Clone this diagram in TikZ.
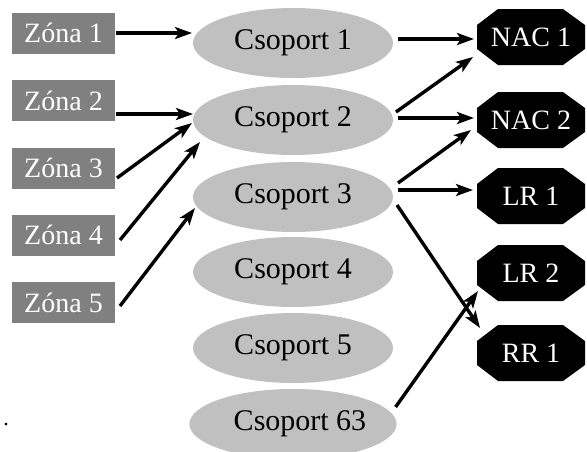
\documentclass[tikz,border=0pt]{standalone}
\usepackage{fontspec}
\setmainfont{Liberation Serif}
\usetikzlibrary{shapes.geometric,arrows.meta,calc,backgrounds}
\definecolor{zonegray}{RGB}{128,128,128}
\definecolor{grpgray}{RGB}{192,192,192}
\begin{document}
\begin{tikzpicture}[x=1pt,y=-1pt,
  zonebox/.style={rectangle,fill=zonegray,text=white,minimum width=103pt,minimum height=41pt,inner sep=0pt,outer sep=0pt,font=\fontsize{28}{30}\selectfont},
  grpbox/.style={ellipse,fill=grpgray,text=black,minimum width=200pt,minimum height=70pt,inner sep=0pt,outer sep=0pt,font=\fontsize{30}{32}\selectfont},
  outbox/.style={rectangle,text=white,minimum width=108pt,minimum height=56pt,inner sep=0pt,outer sep=0pt,font=\fontsize{28}{30}\selectfont},
  octfill/.style={fill=black},
  conn/.style={line width=3.4pt,-{Stealth[length=17pt,width=12pt,inset=4pt]}}]
\useasboundingbox (0,0) rectangle (587,451);
% zones
\node[zonebox] (z1) at (63.5,33) {Zóna 1};
\node[zonebox] (z2) at (63.5,100.5) {Zóna 2};
\node[zonebox] (z3) at (63.5,168) {Zóna 3};
\node[zonebox] (z4) at (63.5,235) {Zóna 4};
\node[zonebox] (z5) at (63.5,302.5) {Zóna 5};
% groups
\node[grpbox] (c1) at (293,43) {Csoport 1};
\node[grpbox] (c2) at (293,120) {Csoport 2};
\node[grpbox] (c3) at (293,197) {Csoport 3};
\node[grpbox] (c4) at (293,272) {Csoport 4};
\node[grpbox] (c5) at (293,348) {Csoport 5};
\node[grpbox] (c6) at (293,424) {\hspace*{14pt}Csoport 63};
% outputs
\node[outbox] (n1) at (531,37) {NAC 1};
\node[outbox] (n2) at (531,120) {NAC 2};
\node[outbox] (l1) at (531,196) {LR 1};
\node[outbox] (l2) at (531,273) {LR 2};
\node[outbox] (r1) at (531,353) {RR 1};
\begin{scope}[on background layer]
\foreach \n in {n1,n2,l1,l2,r1}{
  \fill[octfill] ($(\n.center)+(-33,-28)$) -- ($(\n.center)+(32,-28)$) -- ($(\n.center)+(54,-12)$) -- ($(\n.center)+(54,12)$) -- ($(\n.center)+(32,28)$) -- ($(\n.center)+(-33,28)$) -- ($(\n.center)+(-54,12)$) -- ($(\n.center)+(-54,-12)$) -- cycle;
}
\end{scope}
% dot
\node[inner sep=0pt,font=\fontsize{22}{22}\selectfont] (dot) at (6,425) {.};
% connectors
\draw[conn] ($(z1.east)+(1,0)$) -- ($(c1.west)+(-1,-10)$);
\draw[conn] ($(z2.east)+(1,13.5)$) -- ($(c2.west)+(0,-6)$);
\draw[conn] ($(z3.east)+(2,10)$) -- ($(c2.west)+(-1,3)$);
\draw[conn] ($(z4.east)+(5,5)$) -- ($(c2.west)+(7,22)$);
\draw[conn] ($(z5.east)+(5,3.5)$) -- ($(c3.west)+(2,11)$);
\draw[conn] ($(c1.east)+(5,-4)$) -- ($(n1.west)+(-3,2)$);
\draw[conn] ($(c2.east)+(3,-8)$) -- ($(n1.west)+(-4,20)$);
\draw[conn] ($(c2.east)+(5,-2)$) -- ($(n2.west)+(-3,-2)$);
\draw[conn] ($(c3.east)+(5,-14)$) -- ($(n2.west)+(-6,10)$);
\draw[conn] ($(c3.east)+(5,-7)$) -- ($(l1.west)+(-4,-6)$);
\draw[conn] ($(c3.east)+(4,8)$) -- ($(r1.west)+(3,-25)$);
\draw[conn] ($(c6.east)+(-1,-17)$) -- ($(l2.west)+(1,18)$);
\end{tikzpicture}
\end{document}
